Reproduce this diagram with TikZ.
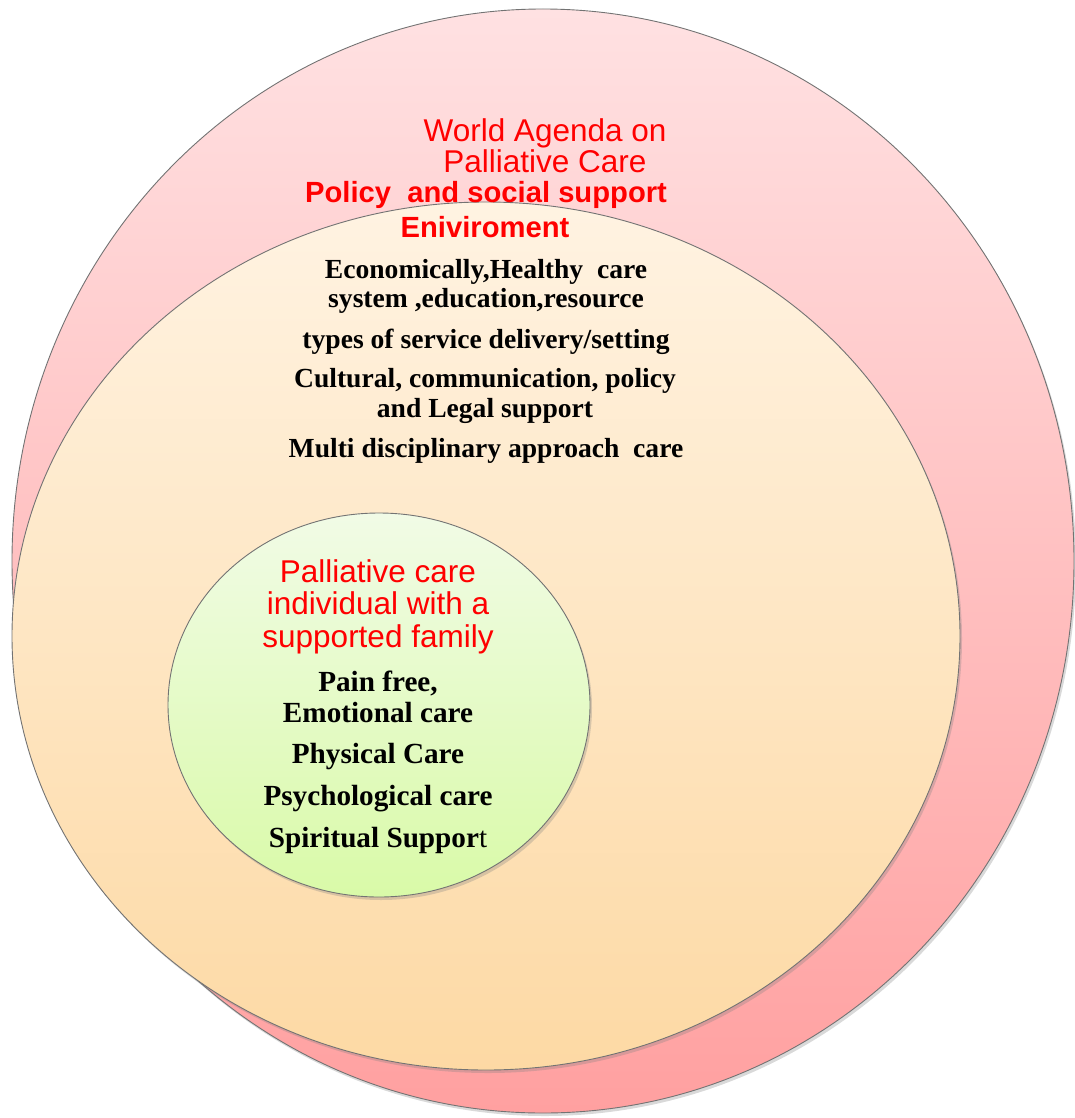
\documentclass[tikz,border=0pt]{standalone}
\usepackage{fontspec}
\setmainfont{Liberation Serif}
\newfontfamily\arialf{Liberation Sans}
\usetikzlibrary{shapes.geometric,shadows}
\definecolor{pinkTop}{RGB}{255,225,226}
\definecolor{pinkBot}{RGB}{255,160,160}
\definecolor{peachTop}{RGB}{255,243,226}
\definecolor{peachBot}{RGB}{253,217,164}
\definecolor{greenTop}{RGB}{241,251,230}
\definecolor{greenBot}{RGB}{217,250,168}
\definecolor{edge}{RGB}{115,115,115}
\definecolor{redtxt}{RGB}{255,0,0}
\tikzset{
  ring/.style={ellipse, inner sep=0pt, draw=edge, line width=0.9pt, shading=axis,
    drop shadow={opacity=0.3, shadow xshift=2pt, shadow yshift=-3pt}},
  redhead/.style={anchor=base, text=redtxt, font=\arialf\fontsize{31.5}{32}\selectfont, inner sep=0pt},
  redbold/.style={anchor=base, text=redtxt, font=\arialf\bfseries\fontsize{29.2}{30}\selectfont, inner sep=0pt},
  midtext/.style={anchor=base, text=black, font=\bfseries\fontsize{27.6}{28}\selectfont, inner sep=0pt},
  intext/.style={anchor=base, text=black, font=\bfseries\fontsize{29.2}{30}\selectfont, inner sep=0pt}
}
\begin{document}
\begin{tikzpicture}[x=1pt, y=-1pt]
\useasboundingbox (0,0) rectangle (1075,1118);
% ellipses
\node[ring, top color=pinkTop, bottom color=pinkBot, minimum width=1062pt, minimum height=1104pt] (outer) at (543,561) {};
\node[ring, top color=peachTop, bottom color=peachBot, minimum width=948pt, minimum height=868pt] (middle) at (486,636) {};
\node[ring, top color=greenTop, bottom color=greenBot, minimum width=422pt, minimum height=384pt] (inner) at (379,705) {};
% outer texts
\node[redhead] (w1) at (545,142) {World Agenda on};
\node[redhead] (w2) at (545,173) {Palliative Care};
\node[redbold] (p1) at (486,203) {Policy\ \ and social support};
\node[redbold] (p2) at (485,237) {Eniviroment};
% middle texts
\node[midtext] (m1) at (486,278) {Economically,Healthy\ \ care};
\node[midtext] (m2) at (486,307) {system ,education,resource};
\node[midtext] (m3) at (486,348) {types of service delivery/setting};
\node[midtext] (m4) at (485,387) {Cultural, communication, policy};
\node[midtext] (m5) at (485,417) {and Legal support};
\node[midtext] (m6) at (486,457) {Multi disciplinary approach\ \ care};
% inner texts
\node[redhead] (i1) at (378,582) {Palliative care};
\node[redhead] (i2) at (378,614) {individual with a};
\node[redhead] (i3) at (378,647) {supported family};
\node[intext] (c1) at (378,691) {Pain free,};
\node[intext] (c2) at (378,722) {Emotional care};
\node[intext] (c3) at (378,763) {Physical Care};
\node[intext] (c4) at (378,805) {Psychological care};
\node[intext] (c5) at (378,847) {Spiritual Suppor\textmd{t}};
\end{tikzpicture}
\end{document}
